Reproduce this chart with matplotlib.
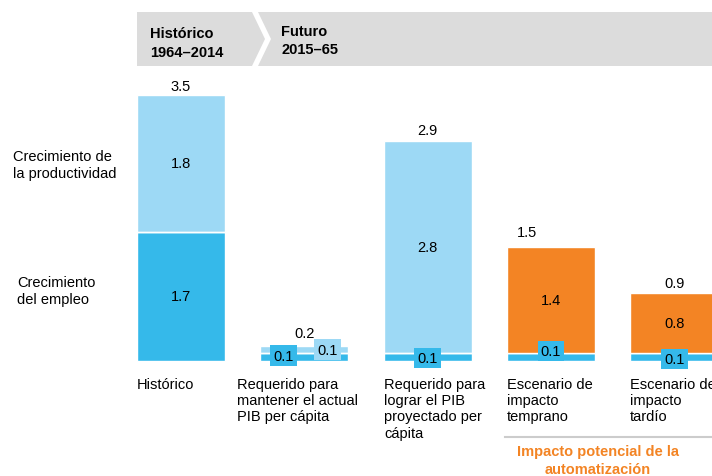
import matplotlib
matplotlib.use("Agg")
import matplotlib.pyplot as plt
from matplotlib.patches import Polygon
import numpy as np

plt.rcParams['font.family'] = ['Liberation Sans', 'DejaVu Sans']

# datos
categorias = ["Histórico",
              "Requerido para\nmantener el actual\nPIB per cápita",
              "Requerido para\nlograr el PIB\nproyectado per\ncápita",
              "Escenario de\nimpacto\ntemprano",
              "Escenario de\nimpacto\ntardío"]
empleo = [1.7, 0.1, 0.1, 0.1, 0.1]
productividad = [1.8, 0.1, 2.8, 0.0, 0.0]
automatizacion = [0.0, 0.0, 0.0, 1.4, 0.8]
totales = [3.5, 0.2, 2.9, 1.5, 0.9]

AZUL_CLARO = "#9dd9f5"
AZUL = "#35b9ea"
NARANJA = "#f38424"
GRIS = "#dcdcdc"

W, H = 712, 477
fig = plt.figure(figsize=(W / 100, H / 100), dpi=100)
ax = fig.add_axes([0, 0, 1, 1])
ax.axis('off')

# escala: centro barra i -> 181 + 123.3*i px, base en y=362 px, 76 px por unidad
paso, x0, base, unidad = 123.3, 181, 362, 76
ax.set_xlim(-x0 / paso, (W - x0) / paso)
ax.set_ylim(-(H - base) / unidad, base / unidad)


def px(x, y):
    return x / W, 1 - y / H


x = np.arange(len(categorias))
ancho = 88 / paso
ax.bar(x, empleo, ancho, color=AZUL, edgecolor='white', linewidth=1)
ax.bar(x, productividad, ancho, bottom=empleo, color=AZUL_CLARO,
       edgecolor='white', linewidth=1)
ax.bar(x, automatizacion, ancho, bottom=empleo, color=NARANJA,
       edgecolor='white', linewidth=1)

fs = 10.5
# etiquetas de segmentos
ax.text(0, empleo[0] / 2, f"{empleo[0]:.1f}", ha='center', va='center', fontsize=fs)
ax.text(0, empleo[0] + productividad[0] / 2, f"{productividad[0]:.1f}",
        ha='center', va='center', fontsize=fs)
ax.text(2, empleo[2] + productividad[2] / 2, f"{productividad[2]:.1f}",
        ha='center', va='center', fontsize=fs)
for i in (3, 4):
    ax.text(i, empleo[i] + automatizacion[i] / 2, f"{automatizacion[i]:.1f}",
            ha='center', va='center', fontsize=fs)

# cajas pequeñas de 0.1
caja = dict(boxstyle='square,pad=0.22', linewidth=0)
ax.text(1 - 0.17, 0.07, f"{empleo[1]:.1f}", ha='center', va='center', fontsize=fs,
        bbox=dict(caja, facecolor=AZUL))
ax.text(1 + 0.19, 0.15, f"{productividad[1]:.1f}", ha='center', va='center',
        fontsize=fs, bbox=dict(caja, facecolor=AZUL_CLARO))
offs = {2: 0.04, 3: 0.13, 4: 0.03}
for i, dy in offs.items():
    ax.text(i, dy, f"{empleo[i]:.1f}", ha='center', va='center', fontsize=fs,
            bbox=dict(caja, facecolor=AZUL))

# totales
dx_tot = [0, 0, 0, -0.19, 0]
dy_tot = [0.12, 0.17, 0.14, 0.2, 0.13]
for i, t in enumerate(totales):
    ax.text(i + dx_tot[i], t + dy_tot[i], f"{t:.1f}", ha='center', va='center',
            fontsize=fs)

# categorías
lefts = [137, 237, 384, 507, 630]
for i, c in enumerate(categorias):
    fig.text(*px(lefts[i], 378), c, ha='left', va='top', fontsize=fs,
             linespacing=1.2)

# etiquetas de la izquierda
fig.text(*px(13, 150), "Crecimiento de\nla productividad", ha='left', va='top',
         fontsize=fs, linespacing=1.3)
fig.text(*px(17, 276), "Crecimiento\ndel empleo", ha='left', va='top',
         fontsize=fs, linespacing=1.3)

# cabecera
cab = Polygon([px(137, 13), px(252, 13), px(265, 40), px(252, 67), px(137, 67)],
              closed=True, transform=fig.transFigure, facecolor=GRIS, edgecolor='none')
cab2 = Polygon([px(258, 13), px(W, 13), px(W, 67), px(258, 67), px(271, 40)],
               closed=True, transform=fig.transFigure, facecolor=GRIS, edgecolor='none')
fig.add_artist(cab)
fig.add_artist(cab2)
fig.text(*px(150, 27), "Histórico\n1964–2014", ha='left', va='top', fontsize=fs,
         fontweight='bold', linespacing=1.45)
fig.text(*px(281, 25), "Futuro\n2015–65", ha='left', va='top', fontsize=fs,
         fontweight='bold', linespacing=1.35)

# pie de automatización
fig.add_artist(plt.Line2D([505 / W, 1], [1 - 438 / H] * 2, transform=fig.transFigure,
                          color='#cccccc', linewidth=1.5))
fig.text(*px(598, 445), "Impacto potencial de la\nautomatización", ha='center',
         va='top', fontsize=fs, fontweight='bold', color=NARANJA, linespacing=1.4)

fig.savefig("out.png", dpi=100)
